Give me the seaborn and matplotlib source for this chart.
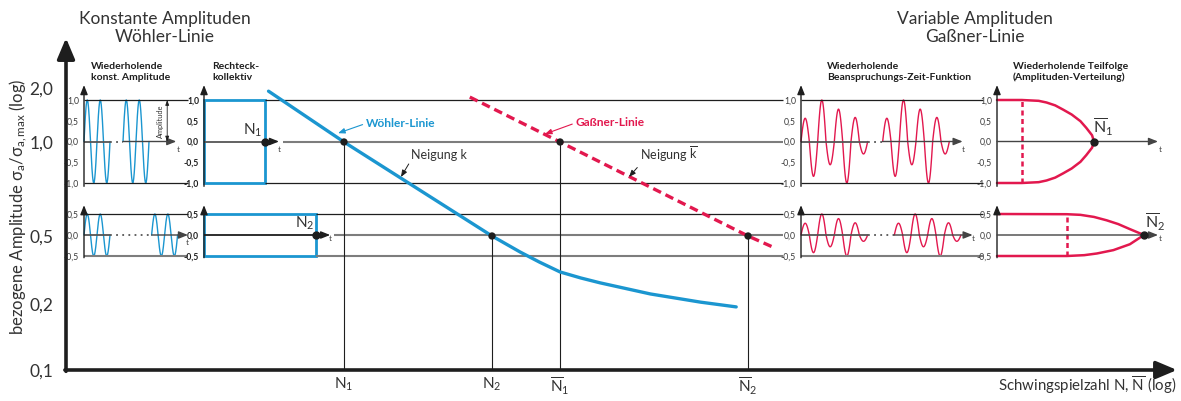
import numpy as np
import matplotlib
matplotlib.use("Agg")
import matplotlib.pyplot as plt
from matplotlib.patches import Rectangle
import seaborn as sns

sns.set_theme(style="white")
plt.rcParams["font.family"] = ["Lato", "DejaVu Sans"]
plt.rcParams.update({
    "mathtext.fontset": "custom",
    "mathtext.rm": "Lato",
    "mathtext.it": "Lato:italic",
    "mathtext.bf": "Lato:bold",
    "mathtext.sf": "Lato",
})

# ---------------- values ----------------
amp_levels = [0.1, 0.2, 0.5, 1.0, 2.0]
amp_labels = ["0,1", "0,2", "0,5", "1,0", "2,0"]

# log N of N1, N2, N̄1, N̄2 and the amplitude level each belongs to
n_pos = [4.0, 5.0, 5.46, 6.73]
n_amp = [1.0, 0.5, 1.0, 0.5]
n_labels = [r"N$_1$", r"N$_2$", r"$\overline{\mathrm{N}}_1$", r"$\overline{\mathrm{N}}_2$"]

woehler_logn = [3.49, 4.0, 5.0, 5.19, 5.32, 5.46, 5.60, 5.73, 6.07, 6.41, 6.65]
woehler_amp = [1.92, 1.0, 0.5, 0.403, 0.352, 0.308, 0.284, 0.266, 0.229, 0.205, 0.194]

gassner_logn = [4.85, 5.46, 6.73, 6.91]
gassner_amp = [1.78, 1.0, 0.5, 0.426]

inset_ticks_full = [-1.0, -0.5, 0.0, 0.5, 1.0]
inset_labels_full = ["-1,0", "-0,5", "0,0", "0,5", "1,0"]
inset_ticks_half = [-0.5, 0.0, 0.5]
inset_labels_half = ["-0,5", "0,0", "0,5"]

const_amp = [1.0, 0.5]            # constant amplitude, upper / lower level
block_len = [1.0, 1.84]           # Rechteckkollektiv: N1, N2 (relative)
var_halfwaves = [0.56, -0.84, 1.0, -0.56, 0.78, -1.0, 0.58, -0.30]
var_scale = [1.0, 0.5]

# amplitude distribution (Teilfolge), upper level
dist1_t = [0.0, 0.255, 0.43, 0.51, 0.60, 0.68, 0.77, 0.86, 0.92, 0.98, 1.0]
dist1_up = [1.0, 1.0, 0.98, 0.94, 0.87, 0.77, 0.65, 0.49, 0.33, 0.15, 0.0]
dist1_lo = [-1.0, -1.0, -0.98, -0.94, -0.87, -0.77, -0.65, -0.49, -0.33, -0.15, 0.0]
# amplitude distribution, lower level
dist2_t_up = [0.0, 0.72, 0.86, 1.0, 1.13, 1.25, 1.37, 1.515]
dist2_up = [0.5, 0.495, 0.48, 0.43, 0.35, 0.26, 0.14, 0.0]
dist2_t_lo = [0.0, 0.72, 0.90, 1.03, 1.20, 1.37, 1.515]
dist2_lo = [-0.5, -0.5, -0.48, -0.44, -0.36, -0.22, 0.0]
dist_mark = [0.258, 0.72]
dist_end = [1.0, 1.515]

BLUE = "#1B96D0"
RED = "#E2184E"
INK = "#1E1E1E"
TXT = "#333333"
GREY = "#7D7D7D"

W, H = 1181, 401
fig = plt.figure(figsize=(W / 100, H / 100), dpi=100)
fig.patch.set_facecolor("white")


def box(x0, y0, x1, y1):
    return [x0 / W, 1 - y1 / H, (x1 - x0) / W, (y1 - y0) / H]


def ftext(x, y, s, **kw):
    fig.text(x / W, 1 - y / H, s, **kw)


# ---------------- main S-N diagram ----------------
ax = fig.add_axes(box(66, 40, 1177, 370))
ax.set_zorder(3)
ax.patch.set_alpha(0)

LP = np.log10(amp_levels)
PP = np.array([0.0, 66.0, 134.0, 228.0, 282.0])  # drawn spacing of the log levels


def fwd(a):
    la = np.log10(np.clip(np.asarray(a, float), 1e-9, None))
    p = np.interp(la, LP, PP)
    p = np.where(la < LP[0], PP[0] + (la - LP[0]) * (PP[1] - PP[0]) / (LP[1] - LP[0]), p)
    p = np.where(la > LP[-1], PP[-1] + (la - LP[-1]) * (PP[-1] - PP[-2]) / (LP[-1] - LP[-2]), p)
    return p


def inv(p):
    p = np.asarray(p, float)
    la = np.interp(p, PP, LP)
    la = np.where(p < PP[0], LP[0] + (p - PP[0]) * (LP[1] - LP[0]) / (PP[1] - PP[0]), la)
    la = np.where(p > PP[-1], LP[-1] + (p - PP[-1]) * (LP[-1] - LP[-2]) / (PP[-1] - PP[-2]), la)
    return 10 ** la


ax.set_yscale("function", functions=(fwd, inv))
ax.set_ylim(0.1, float(inv(330)))
ax.set_xlim(4 - 278 / 148, 4 + 833 / 148)
for s in ax.spines.values():
    s.set_visible(False)
ax.grid(False)
ax.set_yticks(amp_levels, amp_labels)
ax.minorticks_off()
ax.tick_params(axis="y", length=7, width=2.2, color=INK, labelsize=12.5, pad=2, labelcolor=TXT)
ax.set_xticks(n_pos, n_labels)
ax.tick_params(axis="x", length=0, pad=4, labelsize=11, labelcolor=TXT)

main_arrow = dict(arrowstyle="-|>,head_length=0.9,head_width=0.38", color=INK, lw=2.6,
                  shrinkA=0, shrinkB=0, mutation_scale=14)
ax.annotate("", xy=(0, 1.006), xytext=(0, -0.004), xycoords="axes fraction",
            textcoords="axes fraction", arrowprops=main_arrow, annotation_clip=False)
ax.annotate("", xy=(1, 0), xytext=(-0.001, 0), xycoords="axes fraction",
            textcoords="axes fraction", arrowprops=main_arrow, annotation_clip=False)

ax.vlines(n_pos, amp_levels[0], n_amp, color=INK, lw=0.8, zorder=2)
sns.lineplot(x=woehler_logn, y=woehler_amp, ax=ax, color=BLUE, lw=2.4, sort=False,
             estimator=None, zorder=3)
ax.plot(gassner_logn, gassner_amp, color=RED, lw=2.4, dashes=(2.6, 1.5), zorder=3)
sns.scatterplot(x=n_pos, y=n_amp, ax=ax, color=INK, s=28, edgecolor="none", zorder=5)

ax.annotate("Wöhler-Linie", xy=(3.96, 1.12), xytext=(20, 7), textcoords="offset points",
            ha="left", va="center", color=BLUE, fontsize=8.6, fontweight="bold",
            arrowprops=dict(arrowstyle="-|>,head_length=0.5,head_width=0.2", color=BLUE, lw=0.8,
                            shrinkA=0, shrinkB=0, mutation_scale=8, relpos=(0, 0.5)))
ax.annotate("Gaßner-Linie", xy=(5.358, 1.108), xytext=(22, 8), textcoords="offset points",
            ha="left", va="center", color=RED, fontsize=8.6, fontweight="bold",
            arrowprops=dict(arrowstyle="-|>,head_length=0.5,head_width=0.2", color=RED, lw=0.8,
                            shrinkA=0, shrinkB=0, mutation_scale=8, relpos=(0, 0.5)))
ax.annotate("Neigung k", xy=(4.385, 0.773), xytext=(7, 16), textcoords="offset points",
            ha="left", va="center", color=TXT, fontsize=9,
            arrowprops=dict(arrowstyle="-|>,head_length=0.5,head_width=0.2", color=INK, lw=0.7,
                            shrinkA=0, shrinkB=0, mutation_scale=8, relpos=(0, 0)))
ax.annotate(r"Neigung $\overline{\mathrm{k}}$", xy=(5.926, 0.773), xytext=(8, 16),
            textcoords="offset points", ha="left", va="center", color=TXT, fontsize=9,
            arrowprops=dict(arrowstyle="-|>,head_length=0.5,head_width=0.2", color=INK, lw=0.7,
                            shrinkA=0, shrinkB=0, mutation_scale=8, relpos=(0, 0)))

# ---------------- small time-signal panels ----------------
small_head = dict(arrowstyle="-|>,head_length=0.55,head_width=0.22", color=INK, lw=1.0,
                  shrinkA=0, shrinkB=0, mutation_scale=10)


def inset(x0, x1, ytop, ybot, xmax, half, bold=False, lab_color="#3A3A3A"):
    a = fig.add_axes(box(x0, ytop, x1, ybot))
    a.set_xlim(0, xmax)
    a.set_ylim(-half, half)
    a.patch.set_alpha(0)
    for s in a.spines.values():
        s.set_visible(False)
    a.grid(False)
    a.set_xticks([])
    if half == 1.0:
        a.set_yticks(inset_ticks_full, inset_labels_full)
    else:
        a.set_yticks(inset_ticks_half, inset_labels_half)
    a.tick_params(axis="y", length=2.5, width=0.6, color=INK, pad=1, labelsize=6.2,
                  labelcolor=lab_color)
    if bold:
        for t in a.get_yticklabels():
            t.set_fontweight("bold")
            t.set_color(INK)
    top = half * (1.36 if half == 1.0 else 1.42)
    a.annotate("", xy=(0, top), xytext=(0, -half * 1.08), arrowprops=small_head,
               annotation_clip=False)
    return a


def harrow(a, x0, x1, color=INK):
    a.annotate("", xy=(x1, 0), xytext=(x0, 0), arrowprops=dict(small_head, color=color),
               annotation_clip=False)


def tlabel(a, x, y):
    a.text(x, y, "t", fontsize=6, color="#444444", ha="center", va="center")


def dotted(a, x0, x1):
    a.plot([x0, x1], [0, 0], color="#555555", lw=1.3, ls=(0, (1, 2.4)), clip_on=False)


# constant amplitude, two levels
for k, (ytop, ybot) in enumerate([(100, 183), (214, 256)]):
    amp = const_amp[k]
    a = inset(84, 188, ytop, ybot, 8.0, amp)
    gap_end = 3.0 if k == 0 else 5.2
    tt = np.linspace(0, 2, 200)
    a.plot(tt, amp * np.sin(2 * np.pi * tt), color=BLUE, lw=1.0, clip_on=False)
    a.plot(tt + gap_end, amp * np.sin(2 * np.pi * tt), color=BLUE, lw=1.0, clip_on=False)
    a.hlines(amp, 0, 8.0, color=INK, lw=0.9, clip_on=False)
    a.hlines(-amp, 0, 8.0, color=INK if k == 0 else GREY, lw=0.9 if k == 0 else 1.5, clip_on=False)
    a.hlines(0, 0, 2.0, color="#555555", lw=1.3, clip_on=False)
    dotted(a, 2.0, gap_end)
    harrow(a, gap_end, 7.1 if k == 0 else 8.0, color="#444444")
    if k == 0:
        tlabel(a, 7.25, -0.2)
        a.annotate("", xy=(6.4, amp), xytext=(6.4, 0),
                   arrowprops=dict(arrowstyle="<|-|>,head_length=0.5,head_width=0.18", color=INK,
                                   lw=0.6, shrinkA=0, shrinkB=0, mutation_scale=6))
        a.text(5.85, 0.5, "Amplitude", rotation=90, fontsize=5.3, color=TXT,
               ha="center", va="center")
    else:
        tlabel(a, 7.95, -0.19)

# rectangular spectrum (Rechteckkollektiv), two levels
for k, (ytop, ybot) in enumerate([(100, 183), (214, 256)]):
    half = const_amp[k]
    n = block_len[k]
    a = inset(204, 783, ytop, ybot, 9.5, half, bold=True)
    a.add_patch(Rectangle((0, -half), n, 2 * half, fill=False, ec=BLUE, lw=2.0, clip_on=False))
    a.hlines(half, n, 9.5, color=INK, lw=0.9, clip_on=False)
    a.hlines(-half, n, 9.5, color=INK if k == 0 else GREY, lw=0.9 if k == 0 else 1.5,
             clip_on=False)
    a.hlines(0, 0, n, color="#555555" if k == 0 else INK, lw=1.3, clip_on=False)
    a.hlines(0, n + 0.3, 9.5, color=GREY, lw=1.5, clip_on=False)
    harrow(a, n, n + 0.23)
    a.plot([n], [0], "o", color=INK, ms=5, clip_on=False, zorder=5)
    tlabel(a, n + 0.23, -0.19 * half)
    a.text(n - 0.2 if k == 0 else n - 0.18, 0.265 * half if k == 0 else 0.286,
           r"N$_1$" if k == 0 else r"N$_2$", fontsize=11, color=TXT, ha="center", va="center")

# variable amplitudes: load-time function, two levels
for k, (ytop, ybot) in enumerate([(100, 183), (214, 256)]):
    sc = var_scale[k]
    a = inset(801, 983, ytop, ybot, 10.92, sc)
    g2 = 4.9 if k == 0 else 5.6
    for start in (0.0, g2):
        for i, hw in enumerate(var_halfwaves):
            tt = np.linspace(i * 0.5, (i + 1) * 0.5, 40)
            a.plot(tt + start, abs(hw) * sc * np.sin(2 * np.pi * tt), color=RED, lw=1.0,
                   clip_on=False)
    a.hlines(sc, 0, 10.92, color=INK, lw=0.9, clip_on=False)
    a.hlines(-sc, 0, 10.92, color=INK if k == 0 else GREY, lw=0.9 if k == 0 else 1.5,
             clip_on=False)
    a.hlines(0, 0, 4.0, color="#555555", lw=1.3, clip_on=False)
    dotted(a, 4.0, g2)
    harrow(a, g2, 9.7 if k == 0 else 10.3, color="#444444")
    tlabel(a, 9.75 if k == 0 else 10.35, -0.19 * sc)

# variable amplitudes: amplitude distribution, two levels
for k, (ytop, ybot) in enumerate([(100, 183), (214, 256)]):
    sc = var_scale[k]
    a = inset(997, 1181, ytop, ybot, 1.897, sc)
    if k == 0:
        a.plot(dist1_t, dist1_up, color=RED, lw=1.8, clip_on=False)
        a.plot(dist1_t, dist1_lo, color=RED, lw=1.8, clip_on=False)
    else:
        a.plot(dist2_t_up, dist2_up, color=RED, lw=1.8, clip_on=False)
        a.plot(dist2_t_lo, dist2_lo, color=RED, lw=1.8, clip_on=False)
    a.vlines(dist_mark[k], -sc, sc, color=RED, lw=1.8, linestyles=(0, (2.0, 1.4)))
    harrow(a, 0, 1.66, color="#444444")
    a.plot([dist_end[k]], [0], "o", color=INK, ms=5, clip_on=False, zorder=5)
    tlabel(a, 1.68, -0.19 * sc)
    if k == 0:
        a.text(1.09, 0.34, r"$\overline{\mathrm{N}}_1$", fontsize=11.5, color=TXT,
               ha="center", va="center")
    else:
        a.text(1.63, 0.31, r"$\overline{\mathrm{N}}_2$", fontsize=11.5, color=TXT,
               ha="center", va="center")

# ---------------- texts ----------------
ftext(165, 28, "Konstante Amplituden\nWöhler-Linie", ha="center", va="center", fontsize=12.5,
      color=TXT, linespacing=1.2)
ftext(975, 28, "Variable Amplituden\nGaßner-Linie", ha="center", va="center", fontsize=12.5,
      color=TXT, linespacing=1.2)
ftext(91, 72, "Wiederholende\nkonst. Amplitude", ha="left", va="center", fontsize=7.5,
      fontweight="bold", color=INK, linespacing=1.25)
ftext(212, 72, "Rechteck-\nkollektiv", ha="left", va="center", fontsize=7.5,
      fontweight="bold", color=INK, linespacing=1.25)
ftext(827, 72, "Wiederholende\nBeanspruchungs-Zeit-Funktion", ha="left", va="center",
      fontsize=7.5, fontweight="bold", color=INK, linespacing=1.25)
ftext(1013, 72, "Wiederholende Teilfolge\n(Amplituden-Verteilung)", ha="left", va="center",
      fontsize=7.5, fontweight="bold", color=INK, linespacing=1.25)
ftext(18, 207, r"bezogene Amplitude σ$_\mathrm{a}$/σ$_\mathrm{a,max}$ (log)", rotation=90,
      ha="center", va="center", fontsize=12, color=TXT)
ftext(1176, 385, r"Schwingspielzahl N, $\overline{\mathrm{N}}$ (log)", ha="right", va="center",
      fontsize=10.8, color=TXT)

fig.savefig("out.png", dpi=100, facecolor="white")
